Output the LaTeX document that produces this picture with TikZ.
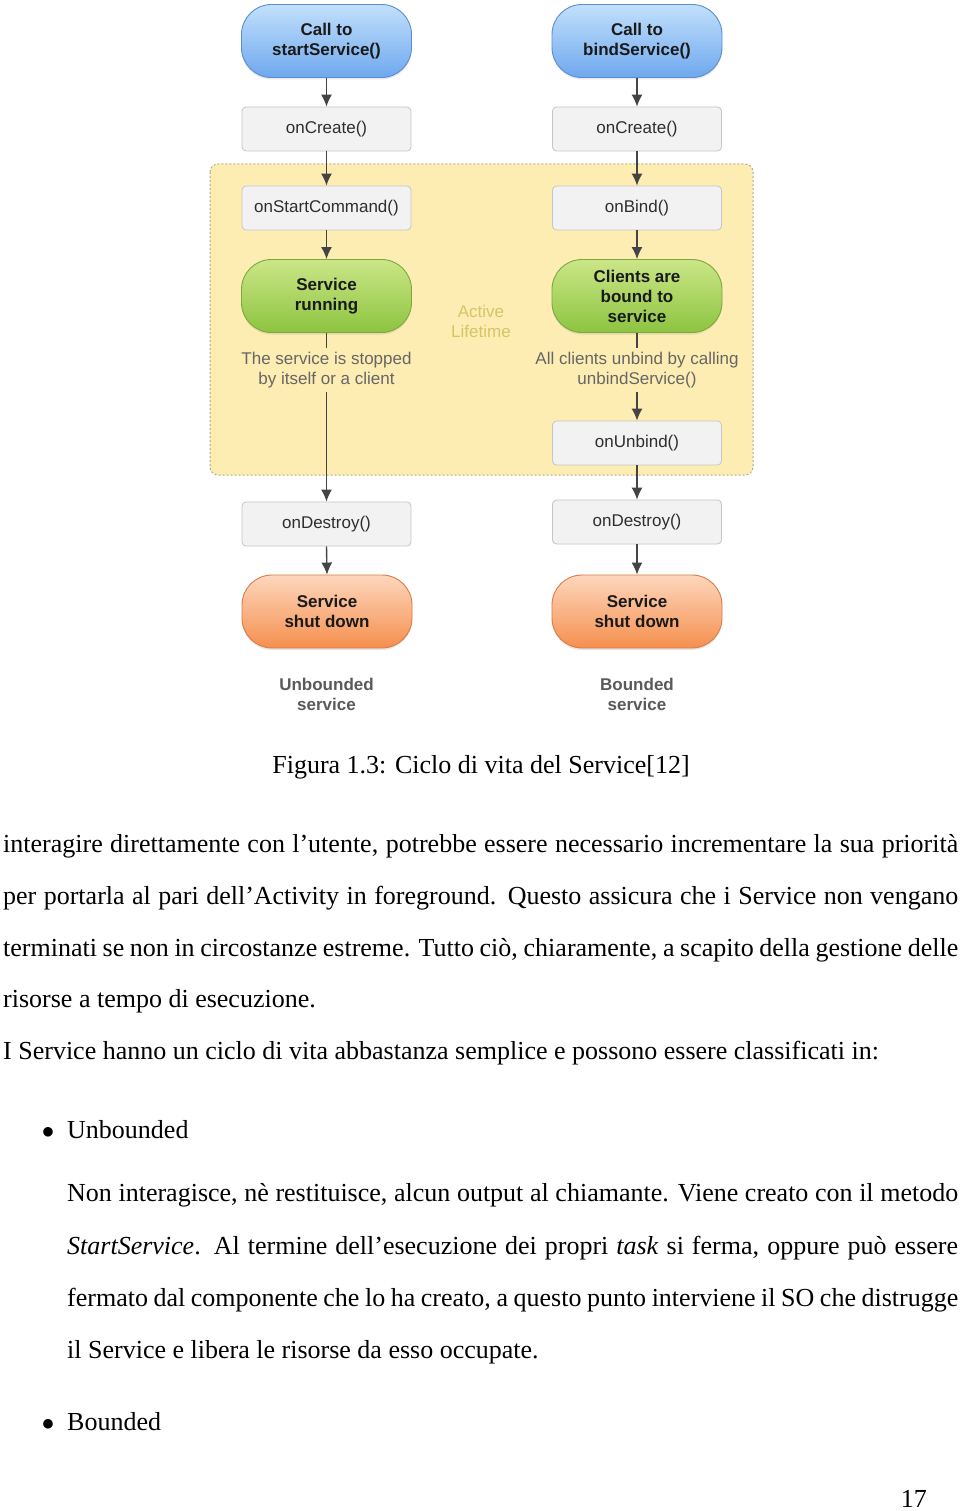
\documentclass[tikz,border=0pt]{standalone}
\usepackage{fontspec}
\setmainfont{Liberation Serif}
\newfontfamily\diagfont{Liberation Sans}
\usetikzlibrary{arrows.meta,shadows}
\definecolor{bluetop}{HTML}{C2E0FB}
\definecolor{bluebot}{HTML}{6FA8EE}
\definecolor{blueedge}{HTML}{5A8DD3}
\definecolor{greentop}{HTML}{CBE688}
\definecolor{greenbot}{HTML}{8DC43F}
\definecolor{greenedge}{HTML}{7DA83E}
\definecolor{orangetop}{HTML}{FDD7BD}
\definecolor{orangebot}{HTML}{F58F4E}
\definecolor{orangeedge}{HTML}{DD7A45}
\definecolor{boxfill}{HTML}{F2F2F2}
\definecolor{boxedge}{HTML}{C5C5C5}
\definecolor{boxtext}{HTML}{2E2E2E}
\definecolor{pilltext}{HTML}{1A1A1A}
\definecolor{yellowfill}{HTML}{FDEDB2}
\definecolor{dotedge}{HTML}{B5AA85}
\definecolor{arrowgray}{HTML}{444444}
\definecolor{notegray}{HTML}{666666}
\definecolor{lifetime}{HTML}{D5C566}
\definecolor{labelgray}{HTML}{5A5A5A}
\begin{document}
\begin{tikzpicture}[x=1pt,y=-1pt,
  base/.style={font=\diagfont\fontsize{17}{20}\selectfont, align=center, inner sep=0pt},
  graybox/.style={base, draw=boxedge, fill=boxfill, rounded corners=4pt, minimum width=169pt, minimum height=44pt, text=boxtext, line width=0.8pt},
  pill/.style={base, font=\diagfont\bfseries\fontsize{17}{20}\selectfont, rounded corners=30pt, minimum width=170pt, minimum height=73pt, line width=0.9pt, text=pilltext, drop shadow={opacity=0.18,shadow xshift=0pt,shadow yshift=-2pt}},
  bluepill/.style={pill, draw=blueedge, top color=bluetop, bottom color=bluebot},
  greenpill/.style={pill, draw=greenedge, top color=greentop, bottom color=greenbot},
  orangepill/.style={pill, draw=orangeedge, top color=orangetop, bottom color=orangebot},
  note/.style={base, text=notegray, inner sep=4pt},
  sublabel/.style={base, font=\diagfont\bfseries\fontsize{17}{20}\selectfont, text=labelgray},
  flow/.style={draw=arrowgray, line width=1.4pt, -{Latex[length=12pt,width=11pt]}},
  plainline/.style={draw=arrowgray, line width=1.4pt},
  body/.style={anchor=base west, inner sep=0pt, font=\fontsize{26}{52}\selectfont}
]
\useasboundingbox[fill=white] (0,0) rectangle (960,1511);

% active lifetime region
\path[draw=dotedge, fill=yellowfill, line width=1pt, dash pattern=on 2pt off 2pt, rounded corners=8pt] (210,164) rectangle (753,475);
\node[base, text=lifetime] (life) at (481,321) {Active\\Lifetime};

% left column
\node[bluepill] (cs) at (326.5,41) {Call to\\startService()};
\node[graybox] (oc1) at (326.5,129) {onCreate()};
\node[graybox] (osc) at (326.5,208) {onStartCommand()};
\node[greenpill] (sr) at (326.5,296) {Service\\running};
\node[note] (n1) at (326.5,370) {The service is stopped\\by itself or a client};
\node[graybox] (od1) at (326.5,524) {onDestroy()};
\node[orangepill] (sd1) at (327,611.5) {Service\\shut down};
\node[sublabel] (l1) at (326.5,694) {Unbounded\\service};

% right column
\node[bluepill] (cb) at (637,41) {Call to\\bindService()};
\node[graybox] (oc2) at (637,129) {onCreate()};
\node[graybox] (ob) at (637,208) {onBind()};
\node[greenpill] (cab) at (637,296) {Clients are\\bound to\\service};
\node[note] (n2) at (637,370) {All clients unbind by calling\\unbindService()};
\node[graybox] (ou) at (637,443) {onUnbind()};
\node[graybox] (od2) at (637,522) {onDestroy()};
\node[orangepill] (sd2) at (637,611.5) {Service\\shut down};
\node[sublabel] (l2) at (637,694) {Bounded\\service};

% connectors
\draw[flow] (cs.south) -- (oc1.north);
\draw[flow] (oc1.south) -- (osc.north);
\draw[flow] (osc.south) -- (sr.north);
\draw[plainline] (sr.south) -- (n1.north);
\draw[flow] (n1.south) -- (od1.north);
\draw[flow] (od1.south) -- (sd1.north);

\draw[flow] (cb.south) -- (oc2.north);
\draw[flow] (oc2.south) -- (ob.north);
\draw[flow] (ob.south) -- (cab.north);
\draw[plainline] (cab.south) -- (n2.north);
\draw[flow] (n2.south) -- (ou.north);
\draw[flow] (ou.south) -- (od2.north);
\draw[flow] (od2.south) -- (sd2.north);

% caption and body text
\node[anchor=base, inner sep=0pt, font=\fontsize{26}{52}\selectfont] (cap) at (481,773) {Figura 1.3: Ciclo di vita del Service[12]};

\node[body] (p1) at (3,852) {\makebox[955pt][s]{interagire direttamente con l’utente, potrebbe essere necessario incrementare la sua priorità}};
\node[body] (p2) at (3,904) {\makebox[955pt][s]{per portarla al pari dell’Activity in foreground. Questo assicura che i Service non vengano}};
\node[body] (p3) at (3,956) {\makebox[955pt][s]{terminati se non in circostanze estreme. Tutto ciò, chiaramente, a scapito della gestione delle}};
\node[body] (p4) at (3,1007) {risorse a tempo di esecuzione.};
\node[body] (p5) at (3,1059) {I Service hanno un ciclo di vita abbastanza semplice e possono essere classificati in:};

\node[anchor=base, inner sep=0pt, font=\fontsize{26}{52}\selectfont] (b1) at (48,1138) {$\bullet$};
\node[body] (i1) at (67,1138) {Unbounded};
\node[body] (q1) at (67,1201) {\makebox[891pt][s]{Non interagisce, nè restituisce, alcun output al chiamante. Viene creato con il metodo}};
\node[body] (q2) at (67,1254) {\makebox[891pt][s]{\textit{StartService}. Al termine dell’esecuzione dei propri \textit{task} si ferma, oppure può essere}};
\node[body] (q3) at (67,1306) {\makebox[891pt][s]{fermato dal componente che lo ha creato, a questo punto interviene il SO che distrugge}};
\node[body] (q4) at (67,1358) {il Service e libera le risorse da esso occupate.};

\node[anchor=base, inner sep=0pt, font=\fontsize{26}{52}\selectfont] (b2) at (48,1430) {$\bullet$};
\node[body] (i2) at (67,1430) {Bounded};

\node[anchor=base east, inner sep=0pt, font=\fontsize{26}{52}\selectfont] (pg) at (927,1507) {17};
\end{tikzpicture}
\end{document}
